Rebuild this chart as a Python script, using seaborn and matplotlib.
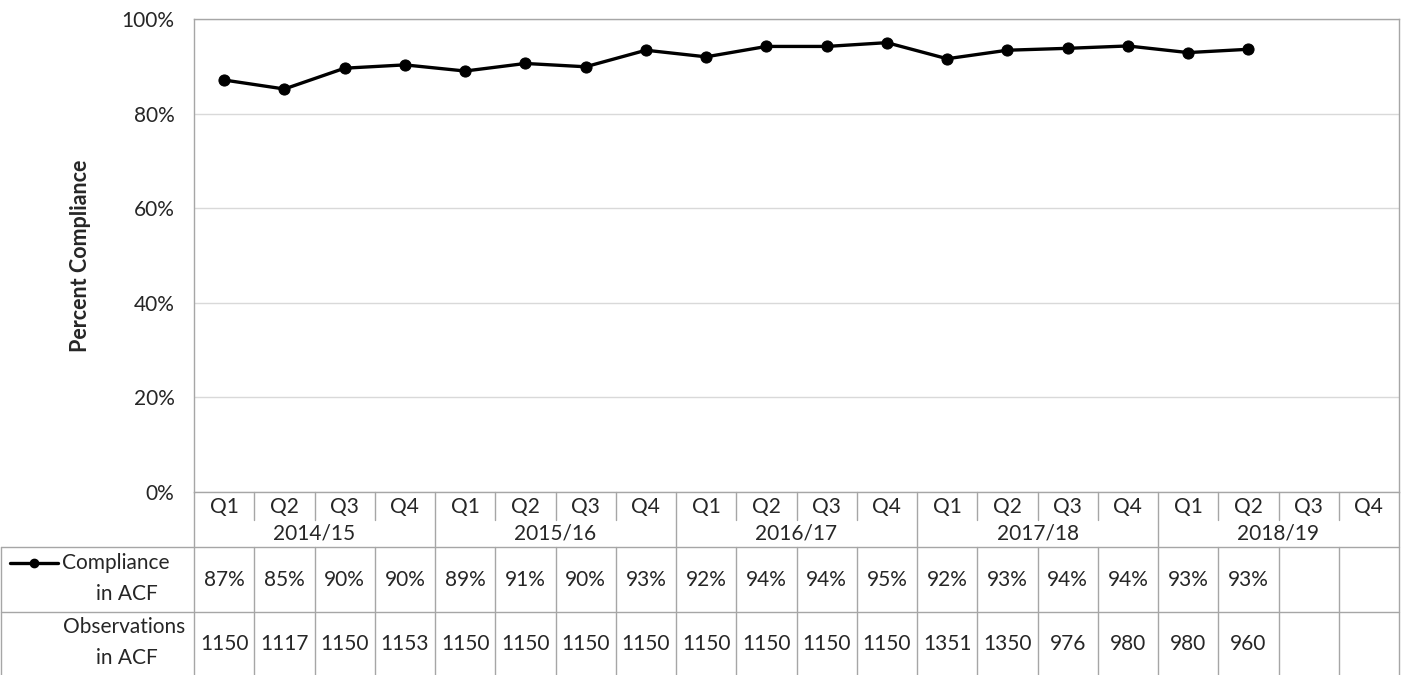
import numpy as np
import pandas as pd
import seaborn as sns
import matplotlib
matplotlib.use("Agg")
from matplotlib import pyplot as plt
from matplotlib.lines import Line2D

years = ["2014/15", "2015/16", "2016/17", "2017/18", "2018/19"]
quarters = ["Q1", "Q2", "Q3", "Q4"]
compliance = [87.1, 85.2, 89.6, 90.3, 89.0, 90.6, 89.9, 93.4, 92.0, 94.2,
              94.2, 95.0, 91.6, 93.4, 93.8, 94.3, 92.9, 93.6]
compliance_lbl = ["87%", "85%", "90%", "90%", "89%", "91%", "90%", "93%", "92%", "94%",
                  "94%", "95%", "92%", "93%", "94%", "94%", "93%", "93%"]
observations = [1150, 1117, 1150, 1153, 1150, 1150, 1150, 1150, 1150, 1150,
                1150, 1150, 1351, 1350, 976, 980, 980, 960]

W, H = 1401, 675
L, R, T, B = 194, 1399, 19, 492
ncol = len(years) * len(quarters)

sns.set_style("white")
plt.rcParams['font.family'] = ['Lato', 'DejaVu Sans']
fs = 15
grid_c = "#a6a6a6"

fig = plt.figure(figsize=(W / 100, H / 100), dpi=100)
ax = fig.add_axes([L / W, 1 - B / H, (R - L) / W, (B - T) / H])

df = pd.DataFrame({"x": np.arange(len(compliance)), "pct": compliance})
sns.lineplot(data=df, x="x", y="pct", ax=ax, color="black", linewidth=2.4,
             marker="o", markersize=8, markeredgecolor="black")

ax.set_xlim(-0.5, ncol - 0.5)
ax.set_ylim(0, 100)
ax.set_yticks(range(0, 101, 20))
ax.set_yticklabels([f"{v}%" for v in range(0, 101, 20)], fontsize=fs, color="#262626")
ax.set_xticks([])
ax.set_xlabel("")
ax.set_ylabel("Percent Compliance", fontsize=15.5, fontweight="bold", labelpad=22)
ax.tick_params(axis="y", length=0, pad=14)
ax.grid(axis="y", color="#d9d9d9", linewidth=1)
for s in ax.spines.values():
    s.set_color(grid_c)
    s.set_linewidth(1)

# table under the chart, in pixel coordinates
tab = fig.add_axes([0, 0, 1, 1], facecolor="none")
tab.set_xlim(0, W)
tab.set_ylim(H, 0)
tab.axis("off")
cw = (R - L) / ncol

def ln(x0, y0, x1, y1):
    tab.add_line(Line2D([x0, x1], [y0, y1], color=grid_c, linewidth=1))

y_q, y_yr, y_c, y_end = 520, 547, 612, 675
ln(L, y_yr, R, y_yr)
ln(1, y_yr, L, y_yr)
ln(1, y_c, R, y_c)
ln(1, y_yr, 1, y_end)
ln(L, B, L, y_end)
ln(R, B, R, y_end)
for i in range(1, ncol):
    x = L + i * cw
    if i % 4 == 0:
        ln(x, B, x, y_end)
    else:
        ln(x, B, x, y_q)
        ln(x, y_yr, x, y_end)

for i in range(ncol):
    x = L + (i + 0.5) * cw
    tab.text(x, 507, quarters[i % 4], ha="center", va="center", fontsize=fs)
for j, yr in enumerate(years):
    x = L + (j * 4 + 2) * cw
    tab.text(x, 533, yr, ha="center", va="center", fontsize=fs)
for i, (c, o) in enumerate(zip(compliance_lbl, observations)):
    x = L + (i + 0.5) * cw
    tab.text(x, 580, c, ha="center", va="center", fontsize=fs)
    tab.text(x, 644, str(o), ha="center", va="center", fontsize=fs)

tab.add_line(Line2D([10, 58], [563, 563], color="black", linewidth=2.4))
tab.plot([34], [563], "o", color="black", markersize=6)
tab.text(116, 563, "Compliance", ha="center", va="center", fontsize=fs)
tab.text(127, 594, "in ACF", ha="center", va="center", fontsize=fs)
tab.text(124, 627, "Observations", ha="center", va="center", fontsize=fs)
tab.text(127, 658, "in ACF", ha="center", va="center", fontsize=fs)

fig.savefig("out.png", dpi=100)
